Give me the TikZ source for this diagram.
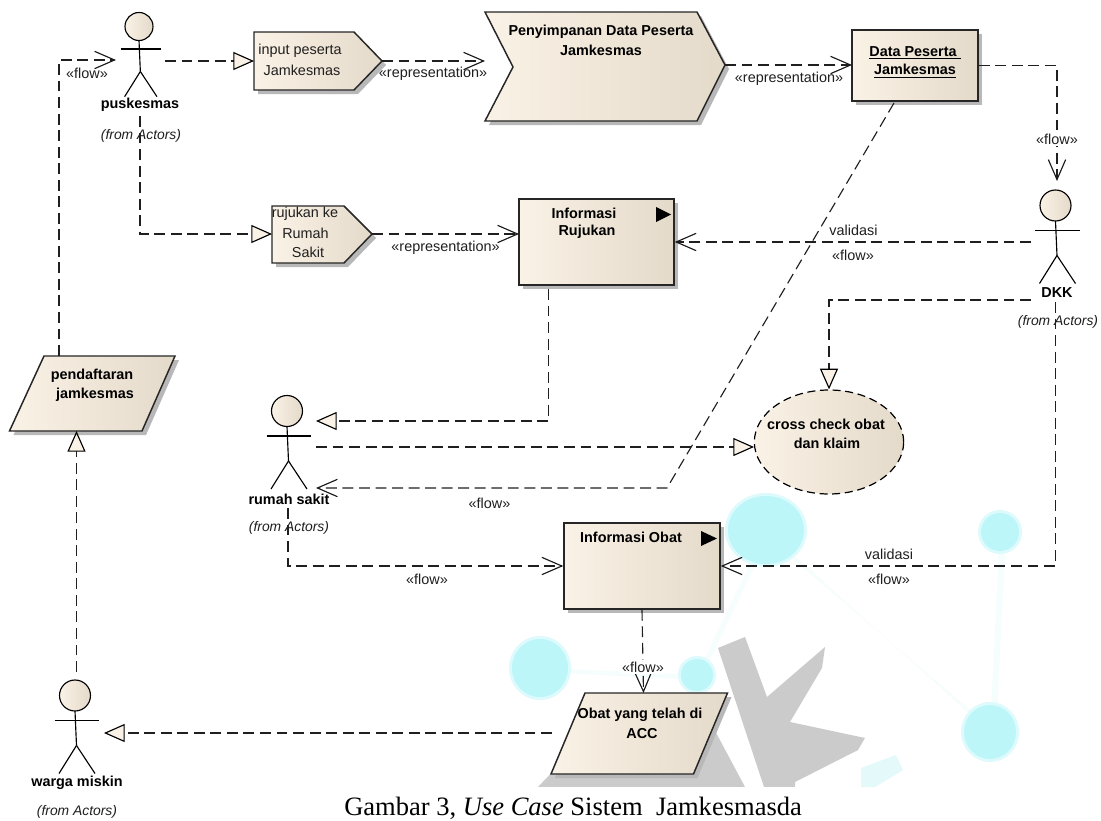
\documentclass[tikz,border=0pt]{standalone}
\usepackage{fontspec}
\setmainfont{Liberation Sans}
\newfontfamily\capfont{Liberation Serif}
\usetikzlibrary{arrows.meta,shapes.geometric}
\definecolor{creamL}{HTML}{FAF2E6}
\definecolor{creamM}{HTML}{F6EEDF}
\definecolor{creamR}{HTML}{E4DACA}
\definecolor{shadowc}{HTML}{B8B8B8}
\definecolor{wmcyan}{HTML}{BDF6F9}
\definecolor{wmhalo}{HTML}{DDFAFC}
\definecolor{wmline}{HTML}{F5FDFD}
\definecolor{wmteal}{HTML}{E3F9FA}
\definecolor{wmgrey}{HTML}{CBCBCB}
\tikzset{
  x=0.75pt,y=-0.75pt,
  beige/.style={left color=creamL,middle color=creamM,right color=creamR},
  blockstyle/.style={beige,draw=black!85,line width=1.1pt},
  boxnode/.style={rectangle,blockstyle,inner sep=0pt},
  depline/.style={draw=black!88,line width=0.85pt,dash pattern=on 8.2pt off 4.2pt},
  flowtip/.style={depline,-{Straight Barb[length=15pt,width=13pt,line width=0.85pt,color=black!90]}},
  realtip/.style={depline,-{Triangle[length=15.5pt,width=13.5pt,fill=creamL,color=black,line width=0.85pt]}},
  limb/.style={draw=black,line width=0.85pt},
  headnode/.style={circle,beige,draw=black,line width=0.85pt,inner sep=0pt},
  lab/.style={inner sep=0pt,font=\fontsize{10.8}{11}\selectfont,text=black!88},
  blab/.style={inner sep=0pt,font=\fontsize{10.8}{11}\selectfont\bfseries},
  ilab/.style={inner sep=0pt,font=\fontsize{10.4}{11}\selectfont\itshape,text=black!88},
  onwhite/.style={lab,fill=white,inner sep=1pt},
  playtip/.style={fill=black},
}
\newcommand\blockpath[1]{\fill[shadowc,shift={(4,4)}] #1; \path[blockstyle] #1;}
% name, head x, head y, head diameter (pt), scale
\newcommand\actorfig[5]{%
  \node[headnode,minimum size=#4] (#1) at (#2,#3) {};
  \begin{scope}[shift={(#2,#3)},scale=#5]
    \draw[limb] (0,15.5) -- (1.5,50) coordinate (#1-hip);
    \draw[limb] (-20.5,25) -- (24,25);
    \draw[limb] (#1-hip) -- (-16,78);
    \draw[limb] (#1-hip) -- (20,78);
  \end{scope}}
\newcommand\wmblob[4]{\fill[wmhalo] (#1,#2) ellipse ({#3+3} and {#4+3}); \fill[wmcyan] (#1,#2) ellipse (#3 and #4);}
\begin{document}
\begin{tikzpicture}
\useasboundingbox (0,0) rectangle (1101,821);
\fill[white] (0,0) rectangle (1101,821);
% faint watermark
\fill[wmline] (766,530) -- (990,732) -- (1000,532) -- (1006,532) -- (996,732) -- (766,536) -- cycle;
\fill[wmline] (540,668) -- (697,675) -- (766,530) -- (770,534) -- (700,680) -- (540,672) -- cycle;
\wmblob{766}{530}{38}{34}
\wmblob{1000}{532}{19}{19}
\wmblob{540}{668}{28}{29}
\wmblob{697}{675}{16}{16}
\wmblob{990}{732}{26}{27}
\fill[wmgrey] (718,648) -- (745,637) -- (767,697) -- (825,647) -- (822,668) -- (790,722) -- (865,738) -- (858,750) -- (795,782) -- (795,787) -- (764,787) -- cycle;
\fill[wmgrey] (538,787) -- (558,766) -- (705,712) -- (745,787) -- cycle;
\fill[wmteal] (861,787) -- (861,768) -- (896,755) -- (903,770) -- (875,787) -- cycle;
\fill[white] (284,787) rectangle (861,821);

% actors
\actorfig{pusk}{139}{26.5}{21pt}{0.9}
\actorfig{dkk}{1055.5}{205.5}{23.25pt}{1}
\actorfig{rumah}{287}{411}{23.25pt}{1}
\actorfig{warga}{75}{695.5}{23.25pt}{1}

% blocks
\blockpath{(254,32) -- (354,32) -- (382,61) coordinate (inp-tip) -- (354,90) -- (254,90) -- cycle}
\blockpath{(272,206) -- (344,206) -- (372,234) coordinate (ruj-tip) -- (344,263) -- (272,263) -- cycle}
\blockpath{(485,12) -- (697,12) -- (725,65) coordinate (pen-tip) -- (697,121) -- (485,121) -- (513,67) -- cycle}
\blockpath{(44,356) -- (175,356) -- (142,431) -- (9.5,431) -- cycle}
\blockpath{(585,693) -- (727.5,693) -- (693.5,774) -- (551,774) -- cycle}
\fill[shadowc] (856,34) rectangle (982,105);
\node[boxnode,minimum width=94.5pt,minimum height=53.25pt] (dataP) at (915,65.5) {};
\fill[shadowc] (523,203) rectangle (678,289);
\node[boxnode,minimum width=116.25pt,minimum height=64.5pt] (infoR) at (596.5,242) {};
\fill[shadowc] (568,527) rectangle (724,613);
\node[boxnode,minimum width=117pt,minimum height=64.5pt] (infoO) at (642,566) {};
\node[ellipse,beige,draw=black,line width=0.9pt,dash pattern=on 6pt off 3.5pt,minimum width=112pt,minimum height=78pt,inner sep=0pt] (cross) at (829,442) {};
\fill[playtip] (656,207) -- (671,214.5) -- (656,222) -- cycle;
\fill[playtip] (701,531) -- (717,538.5) -- (701,546) -- cycle;

% connector ends
\coordinate (pusk-out) at (165,61);
\coordinate (inp-in) at (254,61);
\coordinate (pusk-in) at (116,60);
\coordinate (pend-top) at (59,356);
\coordinate (pusk-down) at (140,116);
\coordinate (ruj-in) at (272,234);
\coordinate (pen-in) at (485,61);
\coordinate (infoR-in) at (519,234);
\coordinate (dataP-in) at (852,65);
\coordinate (pen-out) at (725,65);
\coordinate (dkk-top) at (1057,181);
\coordinate (dkk-left) at (1031,242);
\coordinate (dataP-low) at (894,103);
\coordinate (bend) at (667,488);
\coordinate (rumah-flow) at (316,488);
\coordinate (infoR-low) at (548.5,289);
\coordinate (rumah-tri) at (316,421);
\coordinate (rumah-out) at (316,447);
\coordinate (cross-in) at (754,447);
\coordinate (dkk-cross) at (1031,300);
\coordinate (dkk-down) at (1055.5,302);
\coordinate (rumah-down) at (288,508);
\coordinate (pend-bot) at (76.5,431);
\coordinate (warga-top) at (76.5,672);
\coordinate (obat-top) at (643.5,693);
\coordinate (obat-left) at (552,733);
\coordinate (warga-in) at (104,733);

% connectors
\draw[flowtip] (pend-top) |- (pusk-in);
\draw[realtip] (pusk-out) -- (inp-in);
\draw[flowtip] (inp-tip) -- (pen-in);
\draw[flowtip] (pen-out) -- (dataP-in);
\draw[flowtip] (dataP.east) -| (dkk-top);
\draw[realtip] (pusk-down) |- (ruj-in);
\draw[flowtip] (ruj-tip) -- (infoR-in);
\draw[flowtip] (dkk-left) -- (infoR.east);
\draw[flowtip] (dataP-low) -- (bend) -- (rumah-flow);
\draw[realtip] (infoR-low) |- (rumah-tri);
\draw[realtip] (rumah-out) -- (cross-in);
\draw[realtip] (dkk-cross) -| (cross.north);
\draw[flowtip] (dkk-down) |- (infoO.east);
\draw[flowtip] (rumah-down) |- (infoO.west);
\draw[flowtip] (infoO.south) -- (obat-top);
\draw[realtip] (obat-left) -- (warga-in);
\draw[realtip] (warga-top) -- (pend-bot);

% texts
\node[blab] (t1) at (140,105) {puskesmas};
\node[ilab] (t2) at (141,136) {(from Actors)};
\node[blab] (t3) at (1057,293) {DKK};
\node[ilab] (t4) at (1058,322) {(from Actors)};
\node[blab] (t5) at (289,499) {rumah sakit};
\node[ilab] (t6) at (289,528) {(from Actors)};
\node[blab] (t7) at (77,783) {warga miskin};
\node[ilab] (t8) at (77,812) {(from Actors)};
\node[lab] (t9) at (87,73) {«flow»};
\node[lab] (t10) at (300,51) {input peserta};
\node[lab] (t11) at (302,70) {Jamkesmas};
\node[lab] (t12) at (433,74) {«representation»};
\node[blab] (t13) at (601,32) {Penyimpanan Data Peserta};
\node[blab] (t14) at (601,50) {Jamkesmas};
\node[lab] (t15) at (789,79) {«representation»};
\node[blab] (t16) at (915,53) {\underline{Data Peserta\ }};
\node[blab] (t17) at (915,71) {\underline{Jamkesmas}};
\node[onwhite] (t18) at (1057,139) {«flow»};
\node[lab] (t19) at (305,214) {rujukan ke};
\node[lab] (t20) at (305.5,233) {Rumah};
\node[lab] (t21) at (308,252) {Sakit};
\node[lab] (t22) at (445.5,248) {«representation»};
\node[blab] (t23) at (584,213) {Informasi};
\node[blab] (t24) at (587,232) {Rujukan};
\node[lab] (t25) at (853.5,230) {validasi};
\node[lab] (t26) at (853,255) {«flow»};
\node[blab] (t27) at (92,376) {pendaftaran};
\node[blab] (t28) at (95,395) {jamkesmas};
\node[blab] (t29) at (826,424) {cross check obat};
\node[blab] (t30) at (827,443) {dan klaim};
\node[lab] (t31) at (489.5,503) {«flow»};
\node[lab] (t32) at (427,579) {«flow»};
\node[blab] (t33) at (631,537) {Informasi Obat};
\node[lab] (t34) at (889,554) {validasi};
\node[lab] (t35) at (889,579) {«flow»};
\node[onwhite] (t36) at (643,667) {«flow»};
\node[blab] (t37) at (640,715) {Obat yang telah di};
\node[blab] (t38) at (642,734) {ACC};
\node[anchor=base west,inner sep=0pt,font=\capfont\fontsize{19.9}{20}\selectfont] (cap) at (344,815) {Gambar 3, \textit{Use Case} Sistem\hspace{0.5em}Jamkesmasda};
\end{tikzpicture}
\end{document}
